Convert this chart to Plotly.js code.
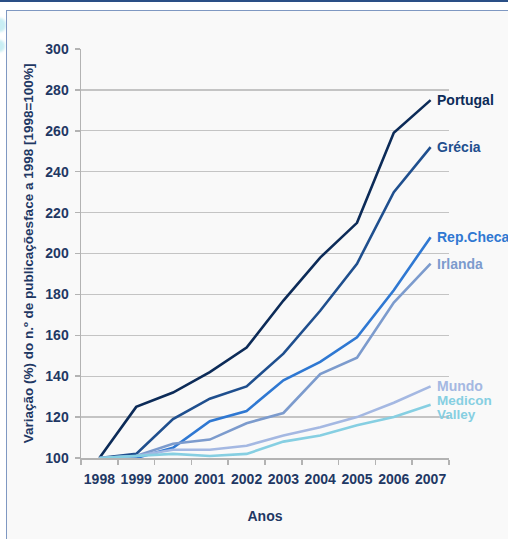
<!DOCTYPE html>
<html>
<head>
<meta charset="utf-8">
<script src="https://cdn.plot.ly/plotly-3.0.1.min.js"></script>
<style>
  html, body { margin: 0; padding: 0; background: #ffffff; width: 508px; height: 539px; overflow: hidden; }
  #topline { position: absolute; left: 0; top: 0; width: 508px; height: 2px; background: #2a4f86; }
  #panel { position: absolute; left: 6px; top: 10px; width: 520px; height: 560px; border: 1.5px solid #7f98c2; background: #f9f9f9; box-sizing: border-box; }
  .blob { position: absolute; background: #c9eef4; border-radius: 50%; filter: blur(1px); }
  #chart { position: absolute; left: 0; top: 0; width: 508px; height: 539px; }
</style>
</head>
<body>
<div id="topline"></div>
<div class="blob" style="left:-6px; top:18px; width:12px; height:14px;"></div>
<div class="blob" style="left:-5px; top:40px; width:10px; height:12px;"></div>
<div id="panel"></div>
<div id="chart"></div>
<script>
const years = ['1998','1999','2000','2001','2002','2003','2004','2005','2006','2007'];
const seriesNames = ['Portugal','Grécia','Rep.Checa','Irlanda','Mundo','Medicon Valley'];
const portugal  = [100, 125, 132, 142, 154, 177, 198, 215, 259, 275];
const grecia    = [100, 102, 119, 129, 135, 151, 172, 195, 230, 252];
const repChecha = [100, 100, 105, 118, 123, 138, 147, 159, 182, 208];
const irlanda   = [100, 101, 107, 109, 117, 122, 141, 149, 176, 195];
const mundo     = [100, 101, 104, 104, 106, 111, 115, 120, 127, 135];
const medicon   = [100, 101, 102, 101, 102, 108, 111, 116, 120, 126];
const yTicks = [100,120,140,160,180,200,220,240,260,280,300];

const values = [portugal, grecia, repChecha, irlanda, mundo, medicon];
const colors = ['#0c2b58','#1f4f8e','#2f78d2','#7c9bcd','#a4b8e2','#86cfe2'];

const font = 'Arial, "Liberation Sans", sans-serif';
const navy = '#1f3864';

const traces = values.map((v, i) => ({
  type: 'scatter', mode: 'lines', x: years, y: v, name: seriesNames[i],
  line: { color: colors[i], width: 2.6 }, showlegend: false, hoverinfo: 'skip'
}));

const lastIdx = years.length - 1;
const annotations = [];
values.forEach((v, i) => {
  // the last series' label wraps onto two lines
  const parts = i === values.length - 1 ? seriesNames[i].split(' ') : [seriesNames[i]];
  parts.forEach((p, k) => {
    annotations.push({
      x: lastIdx, y: v[v.length - 1], xref: 'x', yref: 'y',
      text: '<b>' + p + '</b>', showarrow: false,
      xanchor: 'left', yanchor: 'middle', xshift: 4,
      yshift: parts.length > 1 ? (4 - 14 * k) : 0,
      align: 'left', font: { family: font, size: parts.length > 1 ? 13.5 : 14, color: colors[i] }
    });
  });
});

const layout = {
  width: 508, height: 539,
  margin: { l: 81, r: 59, t: 49, b: 81 },
  paper_bgcolor: 'rgba(0,0,0,0)', plot_bgcolor: 'rgba(0,0,0,0)',
  xaxis: {
    type: 'category', range: [-0.5, 9.5], tickson: 'boundaries', tickangle: 0,
    ticks: 'outside', ticklen: 5, tickcolor: '#b3b3b3', tickwidth: 1.5,
    showline: true, linecolor: '#b3b3b3', linewidth: 1.5, showgrid: false,
    ticklabelstandoff: 8,
    tickfont: { family: font, size: 14, color: navy, weight: 'bold' },
    title: { text: '<b>Anos</b>', standoff: 25, font: { family: font, size: 14, color: navy } }
  },
  yaxis: {
    range: [100, 300], tickvals: yTicks, ticks: 'outside', ticklen: 5,
    tickcolor: '#b3b3b3', tickwidth: 1.5, showline: true, linecolor: '#b3b3b3', linewidth: 1.5,
    showgrid: true, gridcolor: '#c4c4c4', gridwidth: 1.3, zeroline: false,
    ticklabelstandoff: 3,
    tickfont: { family: font, size: 14, color: navy, weight: 'bold' },
    title: { text: '<b>Variação (%) do n.º de publicaçõesface a 1998 [1998=100%]</b>', standoff: 8,
             font: { family: font, size: 13.5, color: navy } }
  },
  annotations: annotations
};

Plotly.newPlot('chart', traces, layout, { displayModeBar: false, staticPlot: true });
</script>
</body>
</html>
